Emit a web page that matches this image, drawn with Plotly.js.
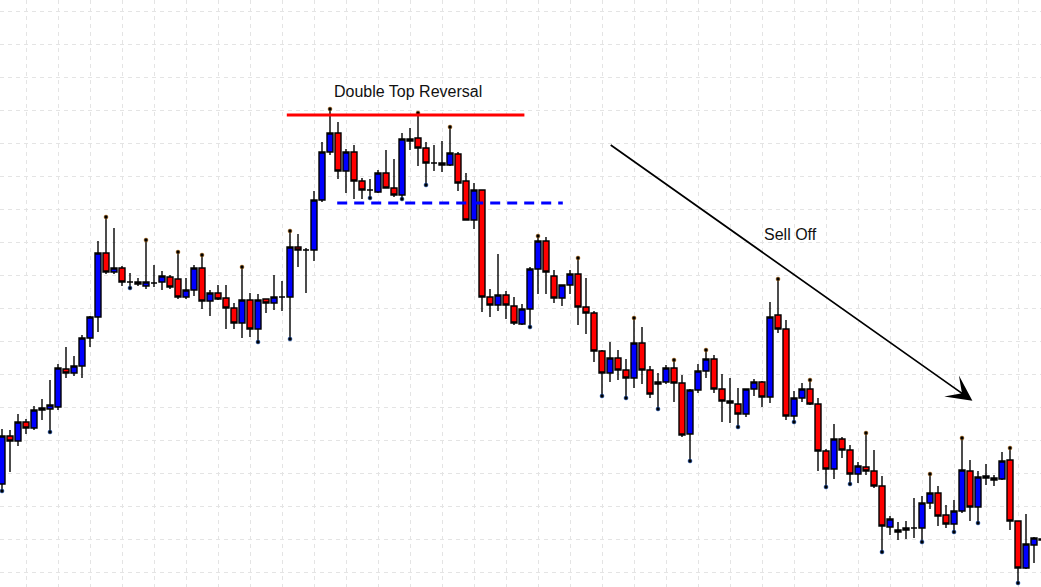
<!DOCTYPE html>
<html>
<head>
<meta charset="utf-8">
<script src="https://cdn.plot.ly/plotly-3.0.1.min.js"></script>
<style>html,body{margin:0;padding:0;background:#fff;}#chart{width:1041px;height:587px;}</style>
</head>
<body>
<div id="chart"></div>
<script>
// Price data (arbitrary price points), one entry per bar
const opens  = [103,151,146,165,159,177,178,180,218,214,221,249,270,334,315,319,305,305,301,304,305,310,308,290,297,319,286,294,289,279,264,287,258,288,284,290,290,340,337,337,387,435,454,416,435,406,397,395,414,399,392,448,449,439,424,424,422,433,406,367,397,290,282,292,281,263,278,318,346,311,289,302,313,280,274,236,214,229,217,209,244,217,203,205,219,204,153,197,216,228,198,186,183,173,198,205,190,272,258,171,189,198,183,136,118,148,137,113,120,116,101,60,55,57,59,59,84,94,72,63,76,116,80,111,107,108,127,66,19,42,47];
const highs  = [158,157,173,168,181,188,207,223,240,231,252,271,346,370,359,321,314,309,347,322,316,312,335,309,322,332,297,302,302,284,320,294,293,288,312,306,356,353,339,396,445,478,465,438,442,409,408,417,437,428,454,459,474,445,442,446,460,435,414,404,397,298,333,296,290,283,320,351,350,317,302,317,329,309,276,237,245,237,228,269,260,221,214,222,227,212,198,223,237,232,213,209,199,198,208,206,285,308,267,196,204,207,189,138,163,150,142,125,154,137,111,71,65,66,89,91,113,101,82,87,149,127,116,123,112,135,139,66,73,50,51];
const lows   = [96,115,141,153,157,167,155,177,209,211,209,240,255,313,313,301,299,301,298,300,297,298,288,288,291,278,271,287,258,258,249,250,245,274,277,276,248,320,294,326,385,432,408,394,388,388,389,394,399,390,388,437,421,402,416,415,421,396,367,358,275,270,276,268,262,262,260,293,293,284,281,293,262,253,225,191,205,207,189,199,203,189,178,203,185,150,126,194,209,194,165,164,160,170,191,180,184,254,167,165,185,182,116,100,108,129,103,104,112,99,35,52,47,48,49,45,78,61,59,55,74,66,64,102,101,107,57,4,18,24,45];
const closes = [151,146,165,159,177,179,182,219,214,221,249,270,334,315,319,305,305,303,305,304,311,300,290,297,319,286,294,288,279,264,287,258,287,284,290,290,340,337,337,387,435,454,416,435,406,397,397,414,399,392,448,446,439,424,424,422,434,404,367,397,290,282,292,282,264,278,318,346,315,289,302,313,280,274,236,214,229,217,209,244,217,193,205,219,204,152,197,216,228,198,186,184,173,198,205,190,270,258,171,189,198,183,136,118,148,137,113,121,116,101,61,68,57,59,59,84,94,71,63,76,117,80,110,109,109,126,66,19,43,49,48];
const bars = opens.map((_, i) => i);

// Bars carrying a fractal marker above the high / below the low
const fractalHighBars = [13,18,22,25,30,36,41,52,56,67,72,79,84,88,97,101,108,116,120,126];
const fractalLowBars  = [0,6,16,32,36,46,50,53,66,75,78,82,86,92,99,103,106,110,115,119,122,127];

// Pattern levels and labels
const resistanceLevel = 472;   // double-top line
const necklineLevel   = 384;   // neckline
const patternLabel = "Double Top Reversal";
const trendLabel   = "Sell Off";

const traces = [
  {
    type: 'candlestick', x: bars, open: opens, high: highs, low: lows, close: closes,
    increasing: {fillcolor: '#0000ff', line: {color: '#000000', width: 1.4}},
    decreasing: {fillcolor: '#ff0000', line: {color: '#000000', width: 1.4}},
    whiskerwidth: 0, hoverinfo: 'skip', showlegend: false
  },
  {
    type: 'scatter', mode: 'markers', x: fractalHighBars, y: fractalHighBars.map(i => highs[i]),
    marker: {color: '#000000', size: 4, line: {color: '#d08020', width: 0.5}}, hoverinfo: 'skip', showlegend: false
  },
  {
    type: 'scatter', mode: 'markers', x: fractalLowBars, y: fractalLowBars.map(i => lows[i]),
    marker: {color: '#000000', size: 4, line: {color: '#2060d0', width: 0.5}}, hoverinfo: 'skip', showlegend: false
  }
];

const layout = {
  width: 1041, height: 587,
  margin: {l: 0, r: 0, t: 0, b: 0, pad: 0},
  paper_bgcolor: '#ffffff', plot_bgcolor: '#ffffff',
  showlegend: false,
  boxgap: 0.25, boxgroupgap: 0,
  xaxis: {
    range: [-0.25, 129.875], tick0: 3.08, dtick: 4, showticklabels: false, ticks: '',
    showgrid: true, gridcolor: '#e4e4e4', gridwidth: 1, griddash: '4px,4px',
    zeroline: false, showline: false, rangeslider: {visible: false}, fixedrange: true
  },
  yaxis: {
    range: [0, 587], tick0: 14.7, dtick: 33, showticklabels: false, ticks: '',
    showgrid: true, gridcolor: '#e4e4e4', gridwidth: 1, griddash: '4px,4px',
    zeroline: false, showline: false, fixedrange: true
  },
  shapes: [
    {type: 'line', xref: 'x', yref: 'y', x0: 35.6, x1: 65.3, y0: resistanceLevel, y1: resistanceLevel,
     line: {color: '#ff0000', width: 3}},
    {type: 'line', xref: 'x', yref: 'y', x0: 41.9, x1: 70.1, y0: necklineLevel, y1: necklineLevel,
     line: {color: '#0000ff', width: 3, dash: '10px,7px'}}
  ],
  annotations: [
    {text: patternLabel, xref: 'x', yref: 'y', x: 50.75, y: 495.5, showarrow: false,
     xanchor: 'center', yanchor: 'middle', font: {family: 'Liberation Sans, Arial, sans-serif', size: 16, color: '#111111'}},
    {text: trendLabel, xref: 'x', yref: 'y', x: 98.6, y: 353, showarrow: false,
     xanchor: 'center', yanchor: 'middle', font: {family: 'Liberation Sans, Arial, sans-serif', size: 16, color: '#111111'}},
    {text: '', xref: 'x', yref: 'y', x: 121.3, y: 186.3, axref: 'x', ayref: 'y', ax: 75.9, ay: 443,
     showarrow: true, arrowhead: 3, arrowsize: 2.5, arrowwidth: 1.7, arrowcolor: '#000000', standoff: 0, startstandoff: 0}
  ]
};

Plotly.newPlot('chart', traces, layout, {staticPlot: true, displayModeBar: false});
</script>
</body>
</html>
